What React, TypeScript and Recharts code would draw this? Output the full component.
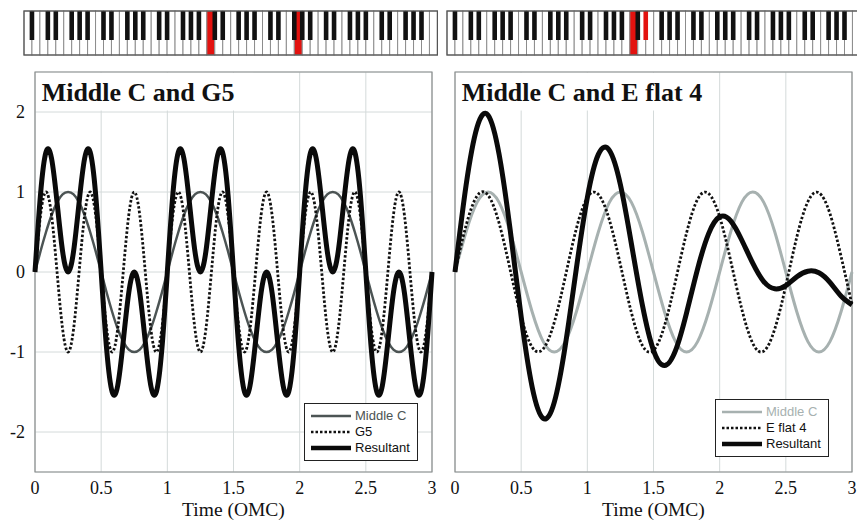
import { CartesianGrid, Line, LineChart, ReferenceArea, XAxis, YAxis } from "recharts"

// sampled every 1/24 OMC, t = 0 .. 3
const leftStep = 1 / 24
const leftMiddleC = [
  0, 0.26, 0.5, 0.71, 0.87, 0.97, 1, 0.97, 0.87, 0.71, 0.5, 0.26,
  0, -0.26, -0.5, -0.71, -0.87, -0.97, -1, -0.97, -0.87, -0.71, -0.5, -0.26,
  0, 0.26, 0.5, 0.71, 0.87, 0.97, 1, 0.97, 0.87, 0.71, 0.5, 0.26,
  0, -0.26, -0.5, -0.71, -0.87, -0.97, -1, -0.97, -0.87, -0.71, -0.5, -0.26,
  0, 0.26, 0.5, 0.71, 0.87, 0.97, 1, 0.97, 0.87, 0.71, 0.5, 0.26,
  0, -0.26, -0.5, -0.71, -0.87, -0.97, -1, -0.97, -0.87, -0.71, -0.5, -0.26,
  0,
]
const leftG5 = [
  0, 0.71, 1, 0.71, 0, -0.71, -1, -0.71,
  0, 0.71, 1, 0.71, 0, -0.71, -1, -0.71,
  0, 0.71, 1, 0.71, 0, -0.71, -1, -0.71,
  0, 0.71, 1, 0.71, 0, -0.71, -1, -0.71,
  0, 0.71, 1, 0.71, 0, -0.71, -1, -0.71,
  0, 0.71, 1, 0.71, 0, -0.71, -1, -0.71,
  0, 0.71, 1, 0.71, 0, -0.71, -1, -0.71,
  0, 0.71, 1, 0.71, 0, -0.71, -1, -0.71,
  0, 0.71, 1, 0.71, 0, -0.71, -1, -0.71,
  0,
]
const leftResultant = [
  0, 0.97, 1.5, 1.42, 0.87, 0.26, 0, 0.26, 0.87, 1.42, 1.5, 0.97,
  0, -0.97, -1.5, -1.42, -0.87, -0.26, 0, -0.26, -0.87, -1.42, -1.5, -0.97,
  0, 0.97, 1.5, 1.42, 0.87, 0.26, 0, 0.26, 0.87, 1.42, 1.5, 0.97,
  0, -0.97, -1.5, -1.42, -0.87, -0.26, 0, -0.26, -0.87, -1.42, -1.5, -0.97,
  0, 0.97, 1.5, 1.42, 0.87, 0.26, 0, 0.26, 0.87, 1.42, 1.5, 0.97,
  0, -0.97, -1.5, -1.42, -0.87, -0.26, 0, -0.26, -0.87, -1.42, -1.5, -0.97,
  0,
]

// sampled every 1/12 OMC, t = 0 .. 3
const rightStep = 1 / 12
const rightMiddleC = [
  0, 0.5, 0.87, 1, 0.87, 0.5, 0, -0.5, -0.87, -1, -0.87, -0.5,
  0, 0.5, 0.87, 1, 0.87, 0.5, 0, -0.5, -0.87, -1, -0.87, -0.5,
  0, 0.5, 0.87, 1, 0.87, 0.5, 0, -0.5, -0.87, -1, -0.87, -0.5,
  0,
]
const rightEflat = [
  0, 0.58, 0.95, 0.96, 0.61, 0.03, -0.56, -0.94, -0.96, -0.63, -0.06, 0.54,
  0.93, 0.97, 0.65, 0.09, -0.51, -0.92, -0.98, -0.67, -0.11, 0.49, 0.91, 0.98,
  0.69, 0.14, -0.46, -0.89, -0.99, -0.71, -0.17, 0.44, 0.88, 0.99, 0.73, 0.2,
  -0.41,
]
const rightResultant = [
  0, 1.08, 1.81, 1.96, 1.47, 0.53, -0.56, -1.44, -1.83, -1.63, -0.92, 0.04,
  0.93, 1.47, 1.52, 1.09, 0.35, -0.42, -0.98, -1.17, -0.98, -0.51, 0.04, 0.48,
  0.69, 0.64, 0.4, 0.11, -0.12, -0.21, -0.17, -0.06, 0.01, -0.01, -0.13, -0.3,
  -0.41,
]

const timeTicks = [0, 0.5, 1, 1.5, 2, 2.5, 3]
const valueTicks = [-2, -1, 0, 1, 2]

const leftData = leftMiddleC.map((c, i) => ({ t: i * leftStep, c, g: leftG5[i], r: leftResultant[i] }))
const rightData = rightMiddleC.map((c, i) => ({ t: i * rightStep, c, e: rightEflat[i], r: rightResultant[i] }))

const SERIF = "'Liberation Serif', 'Times New Roman', serif"
const SANS = "'Liberation Sans', Arial, sans-serif"
const GRID = "#d4dada"
const FRAME = "#8a8e8e"
const DARK_GREY = "#4c5454"
const LIGHT_GREY = "#a7b1b0"
const RED = "#e3120f"

// piano: 88 keys starting at A0
const WHITE_KEYS = 52
const KEY_W = 7.95
const whiteNames = ["A", "B", "C", "D", "E", "F", "G"]

function Keyboard({ left, redWhite, redBlack }: { left: number; redWhite: number[]; redBlack: number[] }) {
  const keys = Array.from({ length: WHITE_KEYS }, (_, i) => i)
  return (
    <svg
      width={WHITE_KEYS * KEY_W + 2}
      height={48}
      style={{ position: "absolute", left: left - 1, top: 10 }}
    >
      {keys.map((i) => (
        <rect
          key={"w" + i}
          x={1 + i * KEY_W}
          y={1}
          width={KEY_W}
          height={44}
          fill={redWhite.includes(i) ? RED : "#fff"}
          stroke="#8c8c8c"
          strokeWidth={1}
        />
      ))}
      {keys
        .filter((i) => i < WHITE_KEYS - 1 && ["A", "C", "D", "F", "G"].includes(whiteNames[i % 7]))
        .map((i) => (
          <rect
            key={"b" + i}
            x={1 + (i + 1) * KEY_W - 2.3}
            y={1}
            width={4.6}
            height={29}
            fill={redBlack.includes(i) ? RED : "#111"}
          />
        ))}
      <rect x={1} y={1} width={WHITE_KEYS * KEY_W} height={44} fill="none" stroke="#555" strokeWidth={1.2} />
    </svg>
  )
}

type LegendItem = { name: string; stroke: string; width: number; dash?: string; text: string }

function LegendBox({ left, top, items }: { left: number; top: number; items: LegendItem[] }) {
  return (
    <div
      style={{
        position: "absolute",
        left,
        top,
        width: 114,
        height: 58,
        boxSizing: "border-box",
        border: "1.5px solid #222",
        background: "#fff",
      }}
    >
      {items.map((it, i) => (
        <div key={it.name} style={{ position: "absolute", left: 6, top: 4 + i * 16, height: 16, display: "flex", alignItems: "center" }}>
          <svg width={40} height={8}>
            <line x1={0} y1={4} x2={40} y2={4} stroke={it.stroke} strokeWidth={it.width} strokeDasharray={it.dash} />
          </svg>
          <span style={{ marginLeft: 4, fontFamily: SANS, fontSize: 13, color: it.text, lineHeight: "16px" }}>{it.name}</span>
        </div>
      ))}
    </div>
  )
}

const tickStyle = { fontSize: 18, fill: "#111", fontFamily: SERIF }
const axisLabel = { value: "Time (OMC)", position: "insideBottom" as const, offset: 8, fontSize: 19.5, fill: "#111", fontFamily: SERIF }
const titleStyle = { position: "insideLeft" as const, offset: 4, fontSize: 26, fontWeight: "bold", fill: "#111", fontFamily: SERIF }

export default function App() {
  return (
    <div style={{ position: "absolute", left: 0, top: 0, width: 857, height: 524, overflow: "hidden", background: "#fff", fontFamily: SERIF }}>
      <Keyboard left={24.3} redWhite={[23, 34]} redBlack={[]} />
      <Keyboard left={446.7} redWhite={[23]} redBlack={[24]} />

      <div style={{ position: "absolute", left: 0, top: 0 }}>
        <LineChart width={440} height={524} data={leftData} margin={{ top: 72, right: 8, bottom: 0, left: 0 }}>
          <CartesianGrid stroke={GRID} strokeWidth={1} />
          <XAxis
            dataKey="t"
            type="number"
            domain={[0, 3]}
            ticks={timeTicks}
            axisLine={false}
            tickLine={false}
            tickMargin={3}
            height={52}
            tick={tickStyle}
            label={axisLabel}
          />
          <YAxis
            type="number"
            domain={[-2.5, 2.5]}
            ticks={valueTicks}
            axisLine={false}
            tickLine={false}
            tickMargin={4}
            width={35}
            tick={tickStyle}
          />
          <ReferenceArea x1={0.02} x2={1.65} y1={2.02} y2={2.49} fill="#fff" fillOpacity={1} stroke="none" label={{ value: "Middle C and G5", ...titleStyle }} />
          <ReferenceArea x1={0} x2={3} y1={-2.5} y2={2.5} fill="none" stroke={FRAME} strokeWidth={1.2} />
          <Line type="natural" dataKey="c" stroke={DARK_GREY} strokeWidth={2.5} dot={false} isAnimationActive={false} />
          <Line type="natural" dataKey="g" stroke="#111" strokeWidth={2.8} strokeDasharray="2.5 2" dot={false} isAnimationActive={false} />
          <Line type="natural" dataKey="r" stroke="#0a0a0a" strokeWidth={5} dot={false} isAnimationActive={false} />
        </LineChart>
      </div>

      <div style={{ position: "absolute", left: 440, top: 0 }}>
        <LineChart width={417} height={524} data={rightData} margin={{ top: 72, right: 5, bottom: 0, left: 0 }}>
          <CartesianGrid stroke={GRID} strokeWidth={1} />
          <XAxis
            dataKey="t"
            type="number"
            domain={[0, 3]}
            ticks={timeTicks}
            axisLine={false}
            tickLine={false}
            tickMargin={3}
            height={52}
            tick={tickStyle}
            label={axisLabel}
          />
          <YAxis type="number" domain={[-2.5, 2.5]} ticks={valueTicks} axisLine={false} tickLine={false} tick={false} width={15} />
          <ReferenceArea x1={0.02} x2={1.95} y1={2.02} y2={2.49} fill="#fff" fillOpacity={1} stroke="none" label={{ value: "Middle C and E flat 4", ...titleStyle }} />
          <ReferenceArea x1={0} x2={3} y1={-2.5} y2={2.5} fill="none" stroke={FRAME} strokeWidth={1.2} />
          <Line type="natural" dataKey="c" stroke={LIGHT_GREY} strokeWidth={3} dot={false} isAnimationActive={false} />
          <Line type="natural" dataKey="e" stroke="#111" strokeWidth={2.8} strokeDasharray="2.5 2" dot={false} isAnimationActive={false} />
          <Line type="natural" dataKey="r" stroke="#0a0a0a" strokeWidth={5} dot={false} isAnimationActive={false} />
        </LineChart>
      </div>

      <LegendBox
        left={304}
        top={403}
        items={[
          { name: "Middle C", stroke: DARK_GREY, width: 2.5, text: DARK_GREY },
          { name: "G5", stroke: "#111", width: 2.5, dash: "2.5 2", text: "#111" },
          { name: "Resultant", stroke: "#0a0a0a", width: 4.5, text: "#111" },
        ]}
      />
      <LegendBox
        left={715}
        top={399}
        items={[
          { name: "Middle C", stroke: LIGHT_GREY, width: 2.5, text: LIGHT_GREY },
          { name: "E flat 4", stroke: "#111", width: 2.5, dash: "2.5 2", text: "#111" },
          { name: "Resultant", stroke: "#0a0a0a", width: 4.5, text: "#111" },
        ]}
      />
    </div>
  )
}
